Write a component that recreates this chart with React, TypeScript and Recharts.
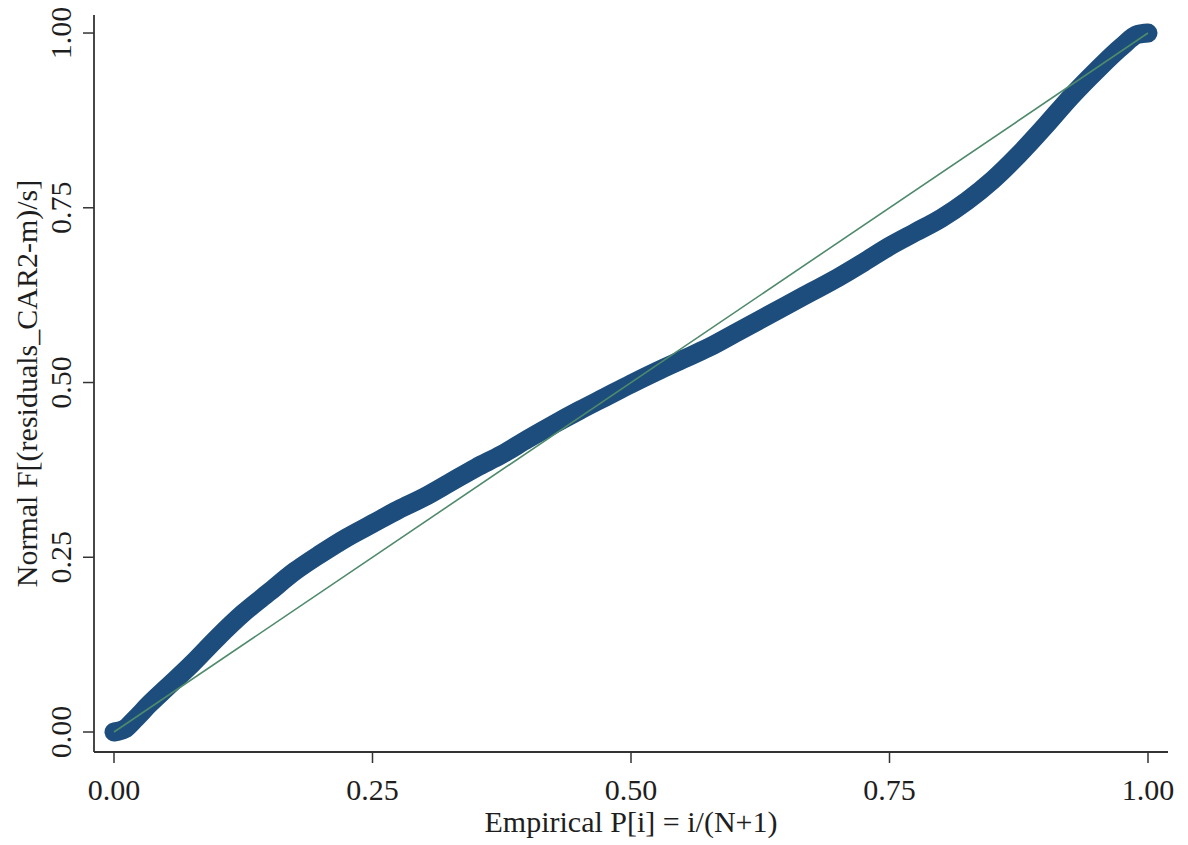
import { LineChart, Line, XAxis, YAxis, Label } from "recharts";

// empirical P[i] (x) and normal F[(residuals_CAR2-m)/s] (y)
const pEmpirical = [
  0, 0.01, 0.02, 0.035, 0.05, 0.075, 0.1, 0.125, 0.15, 0.175, 0.2, 0.225, 0.25,
  0.275, 0.3, 0.325, 0.35, 0.375, 0.4, 0.425, 0.45, 0.475, 0.5, 0.525, 0.55,
  0.575, 0.6, 0.625, 0.65, 0.675, 0.7, 0.725, 0.75, 0.775, 0.8, 0.825, 0.85,
  0.875, 0.9, 0.925, 0.95, 0.975, 0.99, 1.0,
];
const pNormal = [
  0, 0.004, 0.018, 0.041, 0.062, 0.097, 0.135, 0.17, 0.2, 0.23, 0.255, 0.278,
  0.298, 0.318, 0.336, 0.357, 0.378, 0.397, 0.419, 0.44, 0.46, 0.479, 0.498,
  0.516, 0.533, 0.55, 0.57, 0.59, 0.61, 0.63, 0.65, 0.672, 0.695, 0.715, 0.735,
  0.76, 0.79, 0.826, 0.866, 0.908, 0.946, 0.981, 0.998, 1.0,
];

// 45 degree reference line
const refX = [0, 1];
const refY = [0, 1];

const xTicks = [0, 0.25, 0.5, 0.75, 1];
const yTicks = [0, 0.25, 0.5, 0.75, 1];

const xTitle = "Empirical P[i] = i/(N+1)";
const yTitle = "Normal F[(residuals_CAR2-m)/s]";

const ppData = pEmpirical.map((x, i) => ({ x, y: pNormal[i] }));
const refData = refX.map((x, i) => ({ x, y: refY[i] }));

const FONT = "'Liberation Serif', 'Times New Roman', serif";
const TEXT = "#1e1e1e";
const AXIS = "#333333";

const XTick = (props: any) => {
  const { x, y, payload } = props;
  return (
    <text x={x} y={y + 35} textAnchor="middle" fontFamily={FONT} fontSize={30} fill={TEXT}>
      {payload.value.toFixed(2)}
    </text>
  );
};

const YTick = (props: any) => {
  const { x, y, payload } = props;
  const bx = x - 10;
  return (
    <text
      x={bx}
      y={y}
      transform={`rotate(-90, ${bx}, ${y})`}
      textAnchor="middle"
      fontFamily={FONT}
      fontSize={30}
      fill={TEXT}
    >
      {payload.value.toFixed(2)}
    </text>
  );
};

const App = () => {
  return (
    <div style={{ position: "absolute", left: 0, top: 0, background: "#fff" }}>
      <LineChart
        width={1188}
        height={845}
        margin={{ top: 15, right: 20, left: 0, bottom: 0 }}
      >
        <XAxis
          type="number"
          dataKey="x"
          domain={[-0.01934, 1.01934]}
          ticks={xTicks}
          allowDataOverflow
          height={93}
          tickSize={11}
          tick={<XTick />}
          tickLine={{ stroke: AXIS, strokeWidth: 1.5 }}
          axisLine={{ stroke: AXIS, strokeWidth: 1.8 }}
        >
          <Label
            content={(p: any) => {
              const vb = p.viewBox;
              return (
                <text
                  x={vb.x + vb.width / 2}
                  y={832}
                  textAnchor="middle"
                  fontFamily={FONT}
                  fontSize={30}
                  fill={TEXT}
                >
                  {xTitle}
                </text>
              );
            }}
          />
        </XAxis>
        <YAxis
          type="number"
          dataKey="y"
          domain={[-0.0286, 1.0258]}
          ticks={yTicks}
          allowDataOverflow
          width={94}
          tickSize={11}
          tick={<YTick />}
          tickLine={{ stroke: AXIS, strokeWidth: 1.5 }}
          axisLine={{ stroke: AXIS, strokeWidth: 1.8 }}
        >
          <Label
            content={() => {
              const cy = 15 + 737 / 2;
              return (
                <text
                  x={37}
                  y={cy}
                  transform={`rotate(-90, 37, ${cy})`}
                  textAnchor="middle"
                  fontFamily={FONT}
                  fontSize={30}
                  fill={TEXT}
                >
                  {yTitle}
                </text>
              );
            }}
          />
        </YAxis>
        <Line
          data={ppData}
          dataKey="y"
          type="monotone"
          stroke="#1c4d7c"
          strokeWidth={19}
          strokeLinecap="round"
          strokeLinejoin="round"
          dot={false}
          activeDot={false}
          isAnimationActive={false}
        />
        <Line
          data={refData}
          dataKey="y"
          type="linear"
          stroke="#4f8a6c"
          strokeWidth={1.6}
          dot={false}
          activeDot={false}
          isAnimationActive={false}
        />
      </LineChart>
    </div>
  );
};

export default App;
